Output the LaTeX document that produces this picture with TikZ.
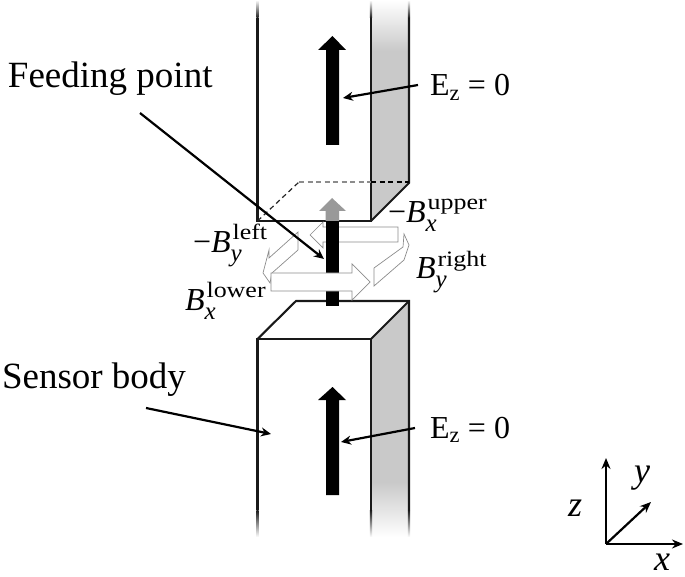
\RequirePackage{fix-cm}
\documentclass[tikz,border=0pt]{standalone}
\usepackage{fontspec}
\usepackage{graphicx}
\setmainfont{Liberation Serif}
\usetikzlibrary{arrows.meta}
\definecolor{sidegray}{gray}{0.79}
\newcommand{\fieldsym}[2]{\textit{B}\rlap{\raisebox{-9pt}{\fontsize{25}{26}\selectfont\itshape #1}}\kern2pt\raisebox{13pt}{\scalebox{1.18}[1]{\fontsize{22}{24}\selectfont #2}}}
\tikzset{
  x=1pt,y=-1pt,
  edge/.style={line width=2.1pt,black!90,line join=miter},
  sideface/.style={fill=sidegray,draw=none},
  hollow/.style={fill=white,draw=black!45,line width=0.7pt,line join=miter},
  bar/.style={fill=black,draw=none},
  pointer/.style={line width=2.2pt,-{Stealth[length=10pt,width=9pt]}},
  axis/.style={line width=2.2pt,-{Stealth[length=11pt,width=9pt]}},
  txt/.style={anchor=base west,inner sep=0pt,outer sep=0pt},
  label/.style={txt,font=\fontsize{32}{34}\selectfont},
  axlabel/.style={txt,font=\fontsize{36}{38}\selectfont\itshape},
  callout/.style={txt,font=\fontsize{32}{34}\selectfont},
  dash1/.style={dashed,dash pattern=on 5pt off 3.5pt,line width=1.2pt}
}
\begin{document}
\begin{tikzpicture}
\useasboundingbox (0,0) rectangle (685,577);
% ---------- upper column
\fill[sideface] (371,50) rectangle (409,183);
\shade[top color=white,bottom color=sidegray,draw=none] (371,0) rectangle (409,50.5);
\fill[sideface] (371,182) -- (409,182) -- (371,221) -- cycle;
\foreach \lx in {257.5,371,409}{
  \shade[top color=white,bottom color=black!90,draw=none] (\lx-1.05,0) rectangle (\lx+1.05,18);
}
\draw[edge] (257.5,18) -- (257.5,221) -- (371,221) -- (371,18);
\draw[edge] (371,221) -- (409,183) -- (409,18);
\draw[dash1,black!85] (257.5,221) -- (299,182);
\draw[dash1,black!45] (299,182) -- (371,182);
\draw[dash1,black] (371,182) -- (409,182);
% ---------- lower column
\fill[sideface] (371,339) -- (409,301) -- (409,483) -- (371,483) -- cycle;
\shade[top color=sidegray,bottom color=white,draw=none] (371,482.5) rectangle (409,537);
\foreach \lx in {257.5,371,409}{
  \shade[top color=black!90,bottom color=white,draw=none] (\lx-1.05,510) rectangle (\lx+1.05,537);
}
\draw[edge] (257.5,510) -- (257.5,339) -- (371,339) -- (371,510);
\draw[edge] (257.5,339) -- (296,301) -- (409,301) -- (409,510);
\draw[edge] (371,339) -- (409,301);
% ---------- vertical field arrows
\fill[bar] (326,145) -- (326,50) -- (318,50) -- (332.5,36) -- (346,50) -- (339,50) -- (339,145) -- cycle;
\fill[bar] (326,495) -- (326,400) -- (318,400) -- (332.5,387) -- (346,400) -- (339,400) -- (339,495) -- cycle;
\fill[black!40] (325.5,221) -- (325.5,211) -- (319,211) -- (332,198) -- (346,211) -- (339,211) -- (339,221) -- cycle;
% ---------- hollow current arrows
\draw[hollow] (398,227) -- (323,227) -- (323,222) -- (310,235) -- (323,248) -- (323,242) -- (398,242) -- cycle;
\draw[hollow] (298,232) -- (298,250) -- (272,273) -- (270,283) -- (263,273) -- (269,250) -- (269,258) -- cycle;
\fill[bar] (325.5,221) rectangle (339,306);
\draw[hollow] (374,268) -- (403,247) -- (404,234) -- (409,245) -- (404,260) -- (374,286) -- cycle;
\draw[hollow] (271,273) -- (352,273) -- (352,264) -- (370,282) -- (352,300) -- (352,291) -- (271,291) -- cycle;
% ---------- labels
\node[txt,font=\fontsize{37}{40}\selectfont] (feed) at (8,88) {Feeding point};
\node[txt,font=\fontsize{37}{40}\selectfont] (body) at (2,388) {Sensor body};
\node[callout] (ez1) at (430,96) {E\textsubscript{z} = 0};
\node[callout] (ez2) at (430,438) {E\textsubscript{z} = 0};
\node[label] (bxu) at (388,223) {−\fieldsym{x}{upper}};
\node[label] (byr) at (416,279) {\fieldsym{y}{right}};
\node[label] (byl) at (193,253) {−\fieldsym{y}{left}};
\node[label] (bxl) at (185,310) {\fieldsym{x}{lower}};
% ---------- pointers
\coordinate (feedS) at (140,113);
\coordinate (feedE) at (324,259);
\coordinate (ez1S) at (418,85);
\coordinate (ez1E) at (343,98);
\coordinate (ez2S) at (415,428);
\coordinate (ez2E) at (341,442);
\coordinate (bodyS) at (146,408);
\coordinate (bodyE) at (271,434);
\draw[pointer] (feedS) -- (feedE);
\draw[pointer] (ez1S) -- (ez1E);
\draw[pointer] (ez2S) -- (ez2E);
\draw[pointer] (bodyS) -- (bodyE);
% ---------- axes
\coordinate (o) at (606,544);
\coordinate (zend) at (606,458);
\coordinate (xend) at (683,544);
\coordinate (yend) at (651,502);
\draw[axis] (o) -- (zend);
\draw[axis] (o) -- (xend);
\draw[axis] (o) -- (yend);
\node[axlabel] (zl) at (568,516) {z};
\node[axlabel] (yl) at (634,482) {y};
\node[axlabel] (xl) at (654,570) {x};
\end{tikzpicture}
\end{document}
